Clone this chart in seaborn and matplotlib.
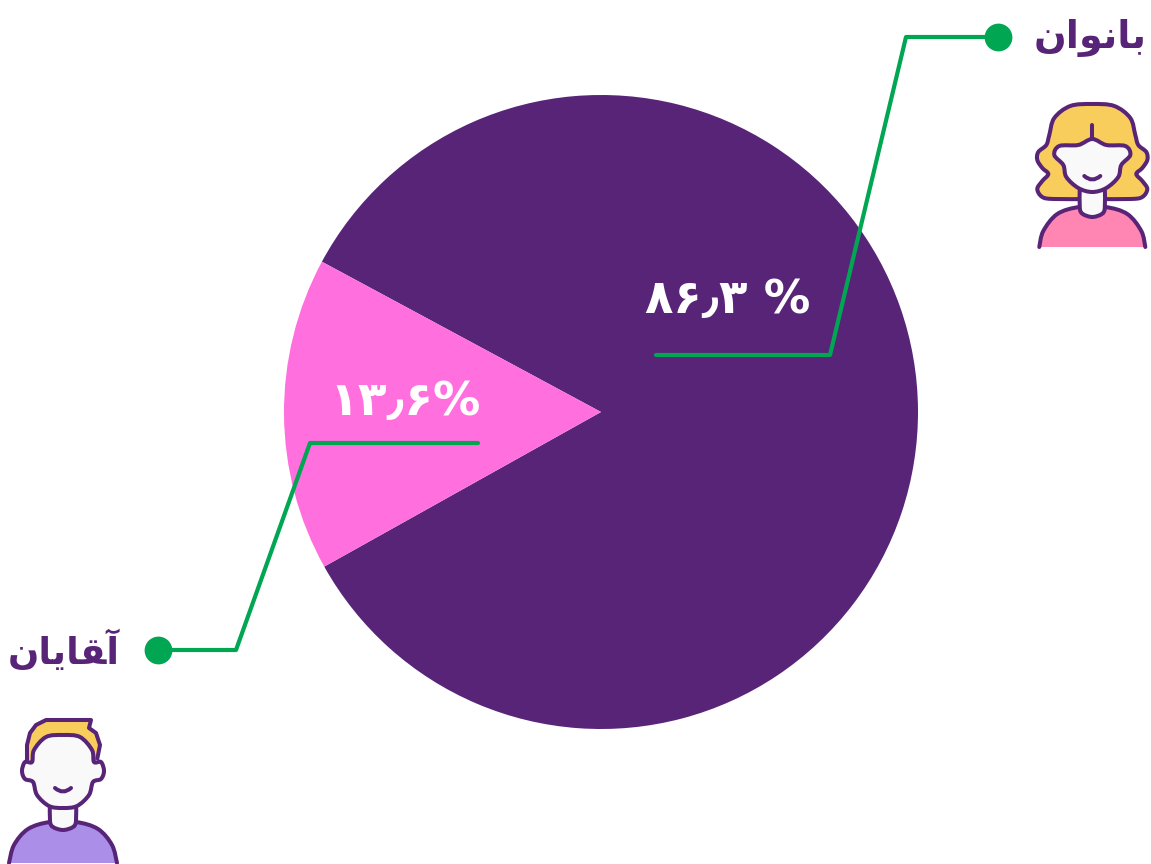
import numpy as np
import pandas as pd
import seaborn as sns
import matplotlib.pyplot as plt
from matplotlib.path import Path
from matplotlib.patches import PathPatch

# wedge shares as drawn in the picture (the printed labels say something else)
slice_names = ['women', 'men']
slice_sizes = [84.03, 15.97]
slice_colors = ['#582478', '#ff6fde']

women_label = 'ﻥاﻮﻧﺎﺑ'
men_label = 'ﻥﺎﯾﺎﻘﺁ'
women_share = '۸۶٫۳ %'
men_share = '۱۳٫۶%'

women_line_x = [656, 830, 906, 998]
women_line_y = [355, 355, 37, 37]
men_line_x = [478, 310, 236, 158]
men_line_y = [443, 443, 650, 650]

PURPLE = '#582478'
GREEN = '#00a651'
FACE = '#f9f9f9'
OUT = 2.9


def smooth(pts, closed=True):
    # catmull-rom through the points, as bezier segments
    pts = np.array(pts, dtype=float)
    n = len(pts)
    verts = [pts[0]]
    codes = [Path.MOVETO]
    for i in range(n if closed else n - 1):
        if closed:
            p0, p1, p2, p3 = pts[(i - 1) % n], pts[i], pts[(i + 1) % n], pts[(i + 2) % n]
        else:
            p0, p1, p2, p3 = pts[max(i - 1, 0)], pts[i], pts[i + 1], pts[min(i + 2, n - 1)]
        verts += [p1 + (p2 - p0) / 6, p2 - (p3 - p1) / 6, p2]
        codes += [Path.CURVE4] * 3
    return Path(verts, codes)


def mirrored(cx, half):
    # half outline from top to bottom, mirrored round x = cx
    right = [(cx + dx, y) for dx, y in half]
    left = [(cx - dx, y) for dx, y in half[::-1] if dx != 0]
    return right + left


def blob(ax, pts, fill, z, closed=True):
    ax.add_patch(PathPatch(smooth(pts, closed), facecolor=fill, edgecolor=PURPLE,
                           lw=OUT, zorder=z, joinstyle='round'))


def body(ax, cx, half, fill, z):
    pts = [(cx - dx, y) for dx, y in half[::-1]] + [(cx + dx, y) for dx, y in half]
    path = smooth(pts, closed=False)
    ax.add_patch(PathPatch(path, facecolor=fill, edgecolor='none', zorder=z))
    ax.add_patch(PathPatch(path, facecolor='none', edgecolor=PURPLE, lw=OUT, zorder=z + 0.1,
                           capstyle='round'))


def neck(ax, cx, top, bottom, w, z):
    pts = [(cx - w, top), (cx - w, bottom - 9), (cx - w + 3, bottom - 3), (cx, bottom),
           (cx + w - 3, bottom - 3), (cx + w, bottom - 9), (cx + w, top)]
    ax.add_patch(PathPatch(smooth(pts, closed=False), facecolor=FACE, edgecolor=PURPLE,
                           lw=OUT, zorder=z))


def smile(ax, cx, y, z):
    ax.add_patch(PathPatch(Path([(cx - 8, y), (cx, y + 7), (cx + 8, y)],
                                [Path.MOVETO, Path.CURVE3, Path.CURVE3]),
                           facecolor='none', edgecolor=PURPLE, lw=OUT, zorder=z, capstyle='round'))


sns.set_theme(style='white')
plt.rcParams['font.family'] = ['DejaVu Sans']

fig = plt.figure(figsize=(11.51, 8.64), dpi=100)
ax = fig.add_axes([0, 0, 1, 1])

# y runs downward here, so the pie angles are mirrored
ax.pie(slice_sizes, colors=slice_colors, center=(601, 412), radius=317,
       startangle=208.3, counterclock=True, frame=True, wedgeprops={'linewidth': 0})

lines = pd.DataFrame({
    'x': women_line_x + men_line_x,
    'y': women_line_y + men_line_y,
    'who': ['women'] * len(women_line_x) + ['men'] * len(men_line_x),
})
sns.lineplot(data=lines, x='x', y='y', units='who', estimator=None, sort=False,
             color=GREEN, lw=3.0, ax=ax, legend=False, zorder=4)
ends = lines.groupby('who').tail(1)
sns.scatterplot(data=ends, x='x', y='y', color=GREEN, s=400, linewidth=0, ax=ax,
                legend=False, zorder=5)
ax.axis('off')
ax.set_xlim(0, 1151)
ax.set_ylim(864, 0)

ax.text(1090, 38, women_label, color=PURPLE, fontsize=27.5, fontweight='bold', ha='center', va='center')
ax.text(64, 651, men_label, color=PURPLE, fontsize=26.5, fontweight='bold', ha='center', va='center')
ax.text(728, 300, women_share, color='white', fontsize=33.5, fontweight='bold', ha='center', va='center', zorder=6)
ax.text(405, 402, men_share, color='white', fontsize=34, fontweight='bold', ha='center', va='center', zorder=6)

# woman icon
cx = 1092.3
blob(ax, mirrored(cx, [(0, 104), (22, 106), (38, 118), (43, 135), (46, 145), (54, 152), (55, 160), (50, 168),
                       (44, 174), (50, 181), (55, 189), (50, 197), (38, 199), (0, 199)]), '#f9cd5b', 7)
body(ax, cx, [(13, 207), (35, 214), (49, 231), (53, 247)], '#ff85b3', 7.2)
neck(ax, cx, 188, 217, 12.5, 7.4)
blob(ax, mirrored(cx, [(0, 139), (14, 145), (33, 146), (38, 155), (29, 165), (26, 177), (14, 188), (0, 192)]),
     FACE, 7.6)
ax.plot([cx, cx], [125, 138], color=PURPLE, lw=OUT, zorder=7.7, solid_capstyle='round')
smile(ax, cx, 176, 7.8)

# man icon
cx = 63
hair = [(27, 760), (27, 745), (30, 733), (36, 725), (46, 720), (91, 720), (89, 728), (96, 733), (100, 745), (97, 760)]
ax.add_patch(PathPatch(Path(hair), facecolor='#f9cd5b', edgecolor=PURPLE, lw=OUT, zorder=7, joinstyle='round'))
body(ax, cx, [(13, 822), (35, 829), (49, 845), (54, 863)], '#ab8ee8', 7.2)
neck(ax, cx, 802, 830, 13, 7.4)
blob(ax, mirrored(cx, [(0, 735), (17, 737), (29, 750), (31, 762), (38, 762), (41, 771), (38, 779),
                       (30, 782), (26, 795), (14, 806), (0, 808)]), FACE, 7.6)
smile(ax, cx, 788, 7.8)

fig.savefig('out.png', dpi=100)
